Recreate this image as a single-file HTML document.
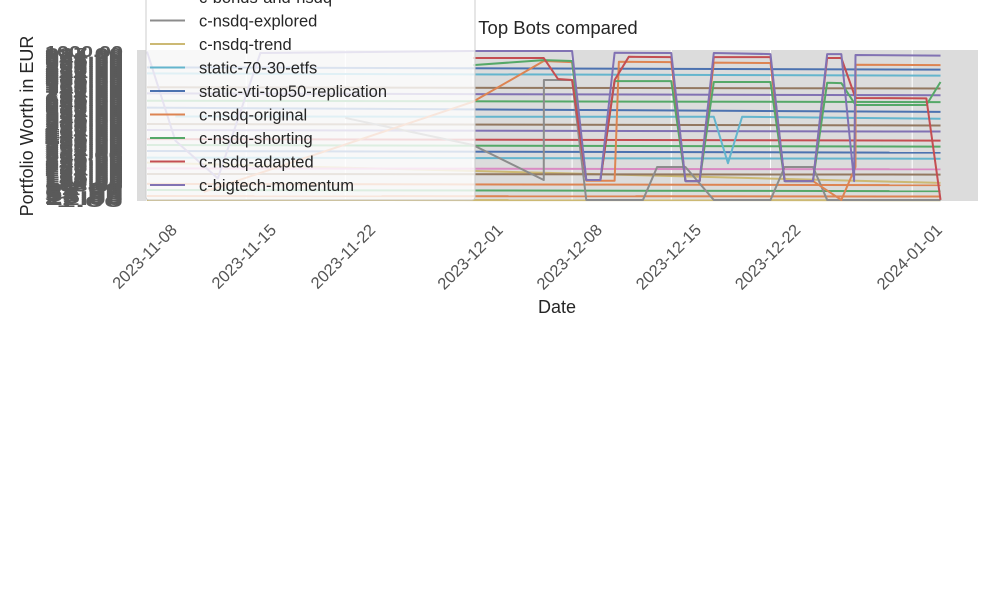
<!DOCTYPE html>
<html><head><meta charset="utf-8"><style>
html,body{margin:0;padding:0;background:#fff;width:1000px;height:600px;overflow:hidden}
svg{display:block;font-family:"Liberation Sans",sans-serif}
</style></head><body>
<svg id="chart" width="1000" height="600">
<rect x="137" y="50" width="841" height="151" fill="#dcdcdc"/>
<g id="grid"></g>
<g id="series"></g>
<g id="yticks"></g>
<g id="xticks"></g>
<text x="558" y="34" font-size="18.5" fill="#262626" text-anchor="middle">Top Bots compared</text>
<text x="557" y="313" font-size="18" fill="#262626" text-anchor="middle">Date</text>
<text transform="translate(33,126) rotate(-90)" font-size="18" fill="#262626" text-anchor="middle">Portfolio Worth in EUR</text>
<g id="legend">
<rect x="146" y="-10" width="329" height="210" rx="3" fill="#fff" fill-opacity="0.8" stroke="#ccc" stroke-width="1"/>
</g>
</svg>
<script>
const dayLabels = ["2023-11-08","2023-11-15","2023-11-22","2023-12-01","2023-12-08","2023-12-15","2023-12-22","2024-01-01"];
const dayTicks = [0,7,14,23,30,37,44,54];
const seriesNames = ["c-bonds-and-nsdq","c-nsdq-explored","c-nsdq-trend","static-70-30-etfs","static-vti-top50-replication","c-nsdq-original","c-nsdq-shorting","c-nsdq-adapted","c-bigtech-momentum"];
const seriesColors = ["#937860","#8c8c8c","#ccb974","#64b5cd","#4c72b0","#dd8452","#55a868","#c44e52","#8172b3"];
const momentumDays = [0,2,5,8,23,30,31,32,33,37,38,39,40,44,45,47,48,49,49.9,50,56];
const momentumVals = [990,400,150,980,993,993,139,139,982,980,132,132,980,973,132,132,973,973,132,967,963];
const adaptedDays = [23,28,29,30,31,32,33,34,37,38,39,40,44,45,47,48,49,50,55,56];
const adaptedVals = [947,947,808,801,139,139,801,955,953,132,132,953,953,132,132,947,947,682,680,7];
const originalDays = [4,23,28,30,31,33,33.3,37,38,39,40,44,45,47,49,50,50.01,56];
const originalVals = [60,657,927,920,134,134,922,920,132,132,916,914,132,132,7,225,902,900];
const shortingDays = [23,28,30,31,32,33,37,38,39,40,44,45,47,48,49,50,55,56];
const shortingVals = [900,933,927,139,139,794,794,132,132,788,788,132,132,783,781,636,636,788];
const exploredDays = [14,23,28,28.01,30,31,35,36,38,40,44,45,47,48,56];
const exploredVals = [550,371,139,801,801,7,7,225,225,7,7,225,225,7,7];
const cyanDays = [2,23,40,41,42,56];
const cyanVals = [560,558,558,250,558,545];
const flatStart = [885,845,753,713,664,618,510,470,410,371,331,287,254,216,179,113,73,33,7];
const flatEnd   = [870,830,745,700,655,590,500,460,400,360,320,280,120,210,175,105,65,30,5];
const flatColorIdx = [4,3,0,8,6,4,0,8,7,6,4,3,2,9,0,5,6,5,2];
const yTickVals = [];
for (let i=0;i<78;i++) yTickVals.push(1000 - i*13);

const NS="http://www.w3.org/2000/svg";
const X0=147, PXD=14.17, YB=201, YT=50;
const xs = d => X0 + d*PXD;
const ys = v => YB - v/1000*(YB-YT);
function mk(tag, attrs, parent){const e=document.createElementNS(NS,tag);for(const k in attrs)e.setAttribute(k,attrs[k]);parent.appendChild(e);return e;}
const grid=document.getElementById('grid'), ser=document.getElementById('series'), yt=document.getElementById('yticks'), xt=document.getElementById('xticks'), leg=document.getElementById('legend');
dayTicks.forEach((d,i)=>{
  const l=mk('line',{x1:xs(d),x2:xs(d),y1:42,y2:208,stroke:'#fff','stroke-width':1},grid);
  
  
  const ax=xs(d)+31, ay=231;
  const t=mk('text',{x:ax,y:ay,'font-size':16.5,fill:'#555','text-anchor':'end',transform:`rotate(-45 ${ax} ${ay})`},xt);
  t.textContent=dayLabels[i];
  
  
});
const colors={0:"#937860",2:"#ccb974",3:"#64b5cd",4:"#4c72b0",5:"#dd8452",6:"#55a868",7:"#c44e52",8:"#8172b3",9:"#da8bc3"};
flatStart.forEach((v,i)=>{
  const l=mk('line',{x1:xs(0),y1:ys(v),x2:xs(56),y2:ys(flatEnd[i]),stroke:colors[flatColorIdx[i]],'stroke-width':2},ser);
  
  
});
function poly(days,vals,color,name){
  const p=mk('polyline',{points:days.map((d,i)=>xs(d)+','+ys(vals[i])).join(' '),fill:'none',stroke:color,'stroke-width':2,'stroke-linejoin':'round'},ser);
  
  
}
poly(cyanDays,cyanVals,"#64b5cd","line-static-70-30-etfs");
poly(exploredDays,exploredVals,"#8c8c8c","line-c-nsdq-explored");
poly(originalDays,originalVals,"#dd8452","line-c-nsdq-original");
poly(shortingDays,shortingVals,"#55a868","line-c-nsdq-shorting");
poly(adaptedDays,adaptedVals,"#c44e52","line-c-nsdq-adapted");
poly(momentumDays,momentumVals,"#8172b3","line-c-bigtech-momentum");
yTickVals.forEach((v,i)=>{
  const t=mk('text',{x:123,y:57+i*1.95,'font-size':16,'font-weight':'bold',fill:'#5a5a5a','text-anchor':'end',textLength:78,lengthAdjust:'spacingAndGlyphs'},yt);
  t.textContent=v.toFixed(2);
  
  
});
seriesNames.forEach((n,i)=>{
  const y=-3+i*23.5;
  const l=mk('line',{x1:150,x2:185,y1:y,y2:y,stroke:seriesColors[i],'stroke-width':2},leg);
  
  
  const t=mk('text',{x:199,y:y+6,'font-size':16.5,fill:'#262626'},leg);
  t.textContent=n;
  
  
});
</script>
</body></html>
